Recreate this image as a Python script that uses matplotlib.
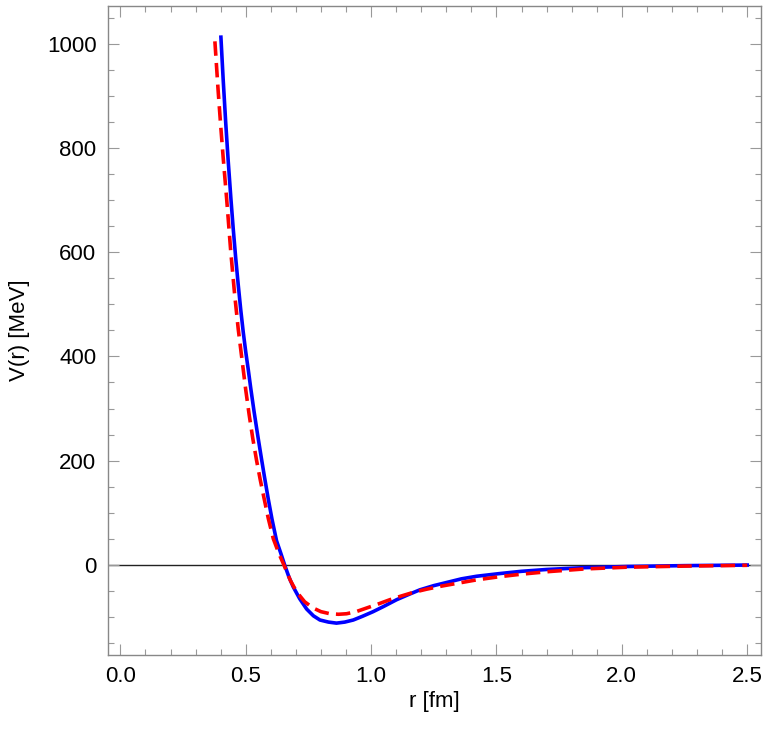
import matplotlib.pyplot as plt
from matplotlib.ticker import MultipleLocator

plt.rcParams['font.family'] = ['Liberation Sans', 'DejaVu Sans']

# blue solid curve
r_blue = [0.401, 0.41, 0.42, 0.43, 0.441, 0.45, 0.46, 0.47, 0.48, 0.49,
          0.50, 0.510, 0.52, 0.533, 0.548, 0.563, 0.575, 0.590, 0.605, 0.623,
          0.64, 0.655, 0.672, 0.689, 0.715, 0.743, 0.77, 0.796, 0.83, 0.862,
          0.895, 0.929, 0.965, 1.008, 1.05, 1.102, 1.15, 1.195, 1.25, 1.301,
          1.36, 1.421, 1.51, 1.6, 1.70, 1.85, 2.02, 2.25, 2.50]
v_blue = [1013, 932, 850, 776, 702, 646, 589, 538, 490, 447,
          409, 375, 339, 295, 248, 203, 168, 126, 87, 46,
          22, 0, -23, -42, -65, -85, -98, -106, -110, -112,
          -110, -106, -99, -90, -80, -67, -57, -48, -40, -34,
          -27, -22, -17, -12.5, -9, -5.5, -3.3, -1.6, -0.5]

# red dashed curve
r_red = [0.377, 0.39, 0.40, 0.41, 0.424, 0.44, 0.455, 0.47, 0.490, 0.50,
         0.514, 0.528, 0.543, 0.558, 0.573, 0.59, 0.610, 0.632, 0.652, 0.678,
         0.703, 0.735, 0.769, 0.80, 0.836, 0.87, 0.902, 0.94, 0.982, 1.03,
         1.075, 1.12, 1.168, 1.22, 1.28, 1.35, 1.42, 1.51, 1.6, 1.71,
         1.85, 2.02, 2.25, 2.50]
v_red = [1005, 910, 844, 782, 702, 603, 523, 453, 375, 336,
         287, 243, 201, 163, 128, 89, 50, 22, 0, -30,
         -52, -71, -83, -90, -94, -95, -94, -90, -83, -75,
         -67, -60, -53, -47, -41, -35, -29, -23, -18, -13,
         -8, -4.6, -2.5, -1.0]

fig = plt.figure(figsize=(7.63, 7.40), dpi=100)
ax = fig.add_axes([0.141, 0.115, 0.856, 0.877])

ax.axhline(0, color='#222222', lw=1.0, zorder=1)
ax.plot(r_blue, v_blue, color='blue', lw=2.6, zorder=2)
ax.plot(r_red, v_red, color='red', lw=2.6, ls=(0, (4, 2)), zorder=3)

ax.set_xlim(-0.051, 2.554)
ax.set_ylim(-173, 1073)

ax.xaxis.set_major_locator(MultipleLocator(0.5))
ax.xaxis.set_minor_locator(MultipleLocator(0.1))
ax.yaxis.set_major_locator(MultipleLocator(200))
ax.yaxis.set_minor_locator(MultipleLocator(50))
ax.xaxis.set_major_formatter(lambda v, p: f"{v:.1f}")

ax.tick_params(which='both', direction='in', top=True, right=True,
               color='#999999', labelsize=16, pad=8)
ax.tick_params(which='major', length=8, width=0.8)
ax.tick_params(which='minor', length=4.5, width=0.8)
for s in ax.spines.values():
    s.set_color('#888888')
    s.set_linewidth(1.0)

ax.set_xlabel("r [fm]", fontsize=16, labelpad=3)
ax.set_ylabel("V(r) [MeV]", fontsize=16, labelpad=12)

fig.savefig("out.png", dpi=100)
